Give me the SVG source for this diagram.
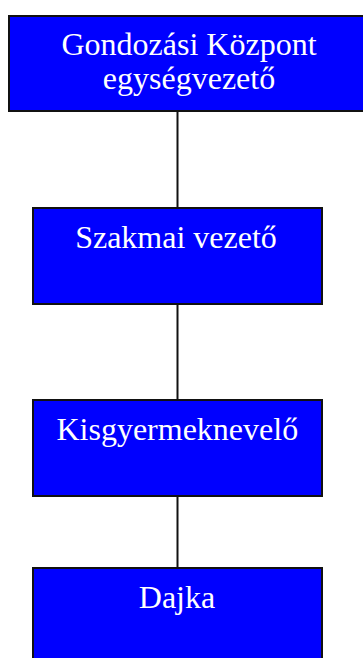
<svg xmlns="http://www.w3.org/2000/svg" width="363" height="658" viewBox="0 0 363 658">
<style>
.box{fill:#0000ff;stroke:#111;stroke-width:2}
.lbl{fill:#fff;font-family:"Liberation Serif","Times New Roman",serif;font-size:32px;text-anchor:middle}
.conn{stroke:#111;stroke-width:2;fill:none}
</style>
<rect x="0" y="0" width="363" height="658" fill="#fff"/>
<g id="connectors">
<line class="conn" x1="177.5" y1="111" x2="177.5" y2="208"/>
<line class="conn" x1="177.5" y1="304" x2="177.5" y2="400"/>
<line class="conn" x1="177.5" y1="496" x2="177.5" y2="568"/>
</g>
<g id="node-kozpont">
<rect class="box" x="9" y="16" width="360" height="95"/>
<text class="lbl" x="189" y="55">Gondozási Központ</text>
<text class="lbl" x="189" y="89">egységvezető</text>
</g>
<g id="node-szakmai">
<rect class="box" x="33" y="208" width="289" height="96"/>
<text class="lbl" x="176" y="248">Szakmai vezető</text>
</g>
<g id="node-kisgyermeknevelo">
<rect class="box" x="33" y="400" width="289" height="96"/>
<text class="lbl" x="177.3" y="440">Kisgyermeknevelő</text>
</g>
<g id="node-dajka">
<rect class="box" x="33" y="568" width="289" height="96"/>
<text class="lbl" x="177" y="608">Dajka</text>
</g>
</svg>
